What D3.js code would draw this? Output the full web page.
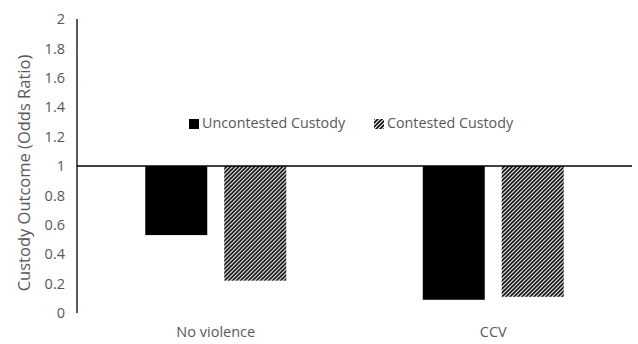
<!DOCTYPE html>
<html>
<head>
<meta charset="utf-8">
<script src="https://cdn.jsdelivr.net/npm/d3@7"></script>
<style>
  html, body { margin: 0; padding: 0; background: #fff; }
  svg { display: block; }
  text { font-family: "Open Sans", sans-serif; fill: #595959; }
</style>
</head>
<body>
<svg id="chart" width="638" height="344"></svg>
<script>
// Odds ratios for custody outcome by violence group
const categories = ["No violence", "CCV"];
const seriesNames = ["Uncontested Custody", "Contested Custody"];
const uncontested = [0.53, 0.09];
const contested = [0.22, 0.11];
const yTicks = [0, 0.2, 0.4, 0.6, 0.8, 1, 1.2, 1.4, 1.6, 1.8, 2];
const baseline = 1;

const seriesValues = [uncontested, contested];
const rows = categories.map((c, i) => ({
  category: c,
  values: seriesNames.map((s, j) => ({ series: s, value: seriesValues[j][i] }))
}));

const svg = d3.select("#chart");

const plot = { left: 77, right: 632, top: 19, bottom: 313 };

const y = d3.scaleLinear().domain([0, 2]).range([plot.bottom, plot.top]);

const x0 = d3.scaleBand()
  .domain(categories)
  .range([plot.left, plot.right])
  .paddingInner(0.492)
  .paddingOuter(0.246);

const x1 = d3.scaleBand()
  .domain(seriesNames)
  .range([0, x0.bandwidth()])
  .paddingInner(0.215);

// Diagonal hatch for the contested series
const defs = svg.append("defs");
const pat = defs.append("pattern")
  .attr("id", "hatch")
  .attr("patternUnits", "userSpaceOnUse")
  .attr("width", 4)
  .attr("height", 4);
pat.append("rect").attr("width", 4).attr("height", 4).attr("fill", "#fff");
pat.append("path")
  .attr("d", "M-1,1 l2,-2 M0,4 l4,-4 M3,5 l2,-2")
  .attr("stroke", "#000")
  .attr("stroke-width", 1.6);

const fills = { "Uncontested Custody": "#000", "Contested Custody": "url(#hatch)" };

// Y axis: labels only, with a plain vertical line
const yAxis = d3.axisLeft(y)
  .tickValues(yTicks)
  .tickSize(0)
  .tickPadding(12)
  .tickFormat(d3.format("~g"));

const gy = svg.append("g")
  .attr("transform", `translate(${plot.left},0)`)
  .call(yAxis);
gy.select(".domain").remove();
gy.selectAll("text")
  .style("font-family", "'Open Sans', sans-serif")
  .style("font-size", "14.5px")
  .attr("fill", "#666");

svg.append("line")
  .attr("x1", plot.left).attr("x2", plot.left)
  .attr("y1", y(2)).attr("y2", y(0))
  .attr("stroke", "#000")
  .attr("stroke-width", 1.3);

// Bars hang from the odds-ratio baseline of 1
const groups = svg.append("g").selectAll("g")
  .data(rows)
  .join("g")
  .attr("transform", d => `translate(${x0(d.category)},0)`);

groups.selectAll("rect")
  .data(d => d.values)
  .join("rect")
  .attr("x", d => x1(d.series))
  .attr("width", x1.bandwidth())
  .attr("y", d => y(Math.max(d.value, baseline)))
  .attr("height", d => Math.abs(y(d.value) - y(baseline)))
  .attr("fill", d => fills[d.series]);

// Horizontal axis crossing at 1
svg.append("line")
  .attr("x1", plot.left).attr("x2", plot.right)
  .attr("y1", y(baseline)).attr("y2", y(baseline))
  .attr("stroke", "#000")
  .attr("stroke-width", 1.3);

// Category labels below the plot
const xAxis = d3.axisBottom(x0).tickSize(0).tickPadding(0);
const gx = svg.append("g")
  .attr("transform", `translate(0,${plot.bottom + 14})`)
  .call(xAxis);
gx.select(".domain").remove();
gx.selectAll("text")
  .style("font-family", "'Open Sans', sans-serif")
  .style("font-size", "14.5px")
  .attr("fill", "#666");

// Y axis title
svg.append("text")
  .attr("transform", `translate(26,${(plot.top + plot.bottom) / 2 + 7}) rotate(-90)`)
  .attr("text-anchor", "middle")
  .attr("dominant-baseline", "middle")
  .style("font-size", "16.5px")
  .attr("fill", "#666")
  .text("Custody Outcome (Odds Ratio)");

// Legend
const legendItems = [
  { name: seriesNames[0], x: 189 },
  { name: seriesNames[1], x: 374 }
];
const lg = svg.append("g").selectAll("g")
  .data(legendItems)
  .join("g")
  .attr("transform", d => `translate(${d.x},119)`);
lg.append("rect")
  .attr("width", 10).attr("height", 10)
  .attr("fill", d => fills[d.name]);
lg.append("text")
  .attr("x", 13)
  .attr("y", 5)
  .attr("dominant-baseline", "middle")
  .style("font-size", "14.3px")
  .attr("fill", "#666")
  .text(d => d.name);
</script>
</body>
</html>
